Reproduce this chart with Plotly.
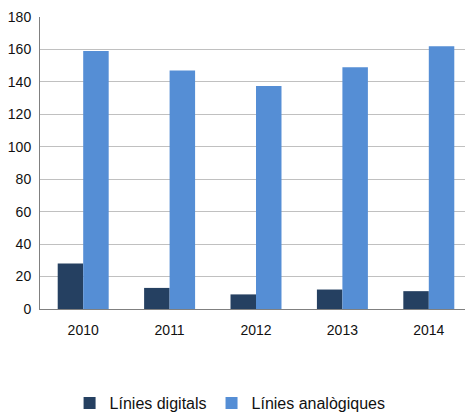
import plotly.graph_objects as go

years = ['2010', '2011', '2012', '2013', '2014']
digital = [28, 13, 9, 12, 11]
analog = [159, 147, 137.5, 149, 162]
y_ticks = [0, 20, 40, 60, 80, 100, 120, 140, 160, 180]

fig = go.Figure()
fig.add_bar(x=years, y=digital, name='Línies digitals', marker=dict(color='#254061', line=dict(width=0)))
fig.add_bar(x=years, y=analog, name='Línies analògiques', marker=dict(color='#558ED5', line=dict(width=0)))

# page body adds an 8px margin, so the figure is a bit smaller than the window
fig.update_layout(
    width=465, height=406,
    margin=dict(l=32, r=1, t=9, b=105, autoexpand=False),
    barmode='group', bargap=0.41, bargroupgap=0,
    plot_bgcolor='white', paper_bgcolor='white',
    font=dict(family='Liberation Sans, Arial, sans-serif', size=14, color='#111111'),
    legend=dict(orientation='h', x=0.44, xanchor='center',
                y=-0.322, yanchor='middle', font=dict(size=16)),
    showlegend=True,
)
fig.update_xaxes(showline=True, linecolor='#808080', linewidth=1, tickangle=0,
                 ticks='', ticklabelstandoff=8, showgrid=False)
fig.update_yaxes(range=[0, 180], tickvals=y_ticks, showgrid=True, gridcolor='#c0c0c0',
                 showline=True, linecolor='#808080', linewidth=1,
                 zeroline=False, ticks='', ticklabelstandoff=5)
fig.write_html("out.html")
